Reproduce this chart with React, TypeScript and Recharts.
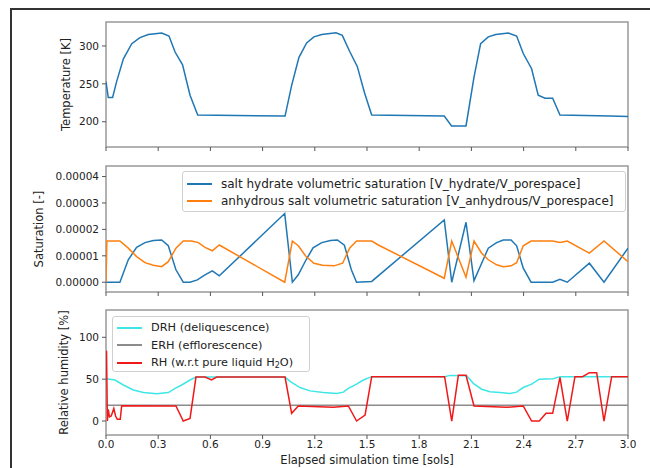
import React from "react";
import { LineChart, Line, XAxis, YAxis, ReferenceArea } from "recharts";

// shared x axis (sols)
const xTicks = [0, 0.3, 0.6, 0.9, 1.2, 1.5, 1.8, 2.1, 2.4, 2.7, 3.0];

// temperature [K]
const tempTime = [0, 0.013, 0.038, 0.061, 0.1, 0.148, 0.195, 0.243, 0.32, 0.362, 0.397, 0.44, 0.483, 0.527, 1.029, 1.067, 1.109, 1.153, 1.195, 1.24, 1.322, 1.358, 1.4, 1.444, 1.486, 1.527, 1.944, 1.986, 2.069, 2.115, 2.153, 2.197, 2.24, 2.312, 2.36, 2.398, 2.446, 2.484, 2.523, 2.567, 2.609, 2.897, 3.0];
const tempK = [253, 232, 232, 253, 283, 303, 311, 315, 317, 313, 292, 275, 235, 209, 207.5, 248, 285, 304, 312, 315, 317.5, 314, 293, 273, 238, 209, 207.5, 194.5, 194.5, 259, 303, 312, 315, 317, 313, 290, 270, 235, 231, 231, 209, 207.5, 207];
const tempTicks = [200, 250, 300];

// saturation (units of 1e-5)
const hydTime = [0, 0.08, 0.128, 0.176, 0.224, 0.272, 0.32, 0.358, 0.402, 0.444, 0.483, 0.525, 0.569, 0.611, 0.651, 1.027, 1.071, 1.105, 1.15, 1.19, 1.24, 1.29, 1.33, 1.37, 1.41, 1.44, 1.527, 1.944, 1.987, 2.069, 2.115, 2.159, 2.197, 2.245, 2.283, 2.328, 2.36, 2.398, 2.443, 2.567, 2.609, 2.651, 2.778, 2.862, 3.0];
const hydSat = [0, 0, 0.85, 1.32, 1.5, 1.58, 1.6, 1.38, 0.47, 0, 0, 0.09, 0.28, 0.43, 0.24, 2.6, 0, 0.28, 0.85, 1.3, 1.5, 1.58, 1.6, 1.4, 0.47, 0, 0.03, 2.36, 0, 2.27, 0.06, 0.72, 1.29, 1.5, 1.6, 1.6, 1.38, 0.53, 0, 0, 0.11, 0, 0.72, 0, 1.29];
const anhTime = [0, 0.005, 0.08, 0.128, 0.176, 0.224, 0.272, 0.32, 0.358, 0.402, 0.444, 0.492, 0.53, 0.569, 0.611, 0.651, 1.027, 1.071, 1.105, 1.15, 1.195, 1.245, 1.31, 1.36, 1.4, 1.44, 1.527, 1.565, 1.944, 1.987, 2.069, 2.115, 2.159, 2.197, 2.245, 2.283, 2.328, 2.36, 2.398, 2.443, 2.567, 2.609, 2.651, 2.778, 2.862, 3.0];
const anhSat = [0, 1.56, 1.56, 1.29, 0.97, 0.74, 0.64, 0.59, 0.78, 1.29, 1.56, 1.56, 1.5, 1.32, 1.19, 1.41, 0, 1.56, 1.38, 0.97, 0.72, 0.64, 0.62, 0.72, 1.29, 1.56, 1.56, 1.41, 0.15, 1.56, 0.19, 1.56, 1.1, 0.85, 0.66, 0.59, 0.62, 0.74, 1.38, 1.56, 1.56, 1.5, 1.56, 1.1, 1.56, 0.78];
const satTicks = [0, 0.00001, 0.00002, 0.00003, 0.00004];

// relative humidity [%]
const drhTime = [0, 0.052, 0.1, 0.157, 0.215, 0.291, 0.358, 0.397, 0.435, 0.483, 0.517, 1.029, 1.06, 1.115, 1.172, 1.249, 1.326, 1.364, 1.393, 1.44, 1.479, 1.527, 1.946, 1.977, 2.073, 2.111, 2.159, 2.207, 2.264, 2.322, 2.36, 2.398, 2.446, 2.49, 2.571, 2.609, 3.0];
const drh = [50.5, 49, 43, 37, 34, 32.5, 34, 39, 43, 49, 52.5, 52.5, 47, 40, 36, 34, 33, 34.5, 39, 44, 49, 53, 53, 54.5, 54, 45, 38, 35, 34, 33, 34.5, 40, 44, 50, 50.5, 53, 53];
const erhTime = [0, 3.0];
const erh = [18.7, 18.7];
const rhTime = [0, 0.003, 0.008, 0.013, 0.02, 0.03, 0.045, 0.055, 0.065, 0.082, 0.09, 0.402, 0.444, 0.483, 0.517, 0.569, 0.607, 0.636, 1.029, 1.067, 1.105, 1.306, 1.393, 1.44, 1.489, 1.527, 1.946, 1.987, 2.025, 2.069, 2.115, 2.303, 2.398, 2.446, 2.49, 2.529, 2.567, 2.609, 2.651, 2.695, 2.739, 2.778, 2.82, 2.862, 2.906, 3.0];
const rh = [83, 83, 0, 14, 5, 6, 15, 6, 2, 2, 18.3, 18, 0, 3.2, 52.5, 52.5, 49, 52.5, 52.5, 9.2, 18, 16.3, 18, 0, 7.2, 53, 53, 0, 54.6, 54.6, 18, 16.3, 18, 0, 0, 9.2, 9.2, 52.2, 0, 53, 53, 57.8, 57.8, 0, 53, 53];
const rhTicks = [0, 50, 100];

const FONT = "DejaVu Sans, sans-serif";

const pairs = (ts: number[], vs: number[], scale = 1) =>
  ts.map((t, i) => ({ t, v: vs[i] * scale }));

interface Series {
  name: string;
  color: string;
  data: { t: number; v: number }[];
}

interface PanelProps {
  top: number;
  height: number;
  marginTop: number;
  domain: [number, number];
  ticks: number[];
  fmt: (v: number) => string;
  yLabel: string;
  labelDx: number;
  series: Series[];
  bottom?: boolean;
}

const tickStyle = { fill: "#222", fontSize: 10.5, fontFamily: FONT };

const Panel: React.FC<PanelProps> = ({
  top,
  height,
  marginTop,
  domain,
  ticks,
  fmt,
  yLabel,
  labelDx,
  series,
  bottom = false,
}) => (
  <div style={{ position: "absolute", left: 0, top }}>
    <LineChart
      width={650}
      height={height}
      margin={{ top: marginTop, right: 22, left: 46, bottom: 0 }}
    >
      <XAxis
        type="number"
        dataKey="t"
        domain={[0, 3]}
        ticks={xTicks}
        allowDataOverflow
        axisLine={false}
        tickLine={{ stroke: "#555" }}
        tickSize={4}
        tickMargin={2}
        height={bottom ? 33 : 10}
        tick={tickStyle}
        tickFormatter={(v: number) => (bottom ? v.toFixed(1) : "")}
        label={
          bottom
            ? {
                value: "Elapsed simulation time [sols]",
                position: "insideBottom",
                offset: 4,
                style: { fill: "#222", fontSize: 11.5, fontFamily: FONT },
              }
            : undefined
        }
      />
      <YAxis
        type="number"
        domain={domain}
        ticks={ticks}
        allowDataOverflow
        width={60}
        axisLine={false}
        tickLine={{ stroke: "#555" }}
        tickSize={4}
        tickMargin={3}
        tick={tickStyle}
        tickFormatter={fmt}
        label={{
          value: yLabel,
          angle: -90,
          position: "center",
          dx: labelDx,
          style: { fill: "#222", fontSize: 11.5, fontFamily: FONT, textAnchor: "middle" },
        }}
      />
      <ReferenceArea
        x1={0}
        x2={3}
        y1={domain[0]}
        y2={domain[1]}
        fill="none"
        stroke="#999"
        strokeWidth={1.5}
        ifOverflow="visible"
      />
      {series.map((s) => (
        <Line
          key={s.name}
          data={s.data}
          dataKey="v"
          name={s.name}
          type="linear"
          stroke={s.color}
          strokeWidth={1.5}
          dot={false}
          activeDot={false}
          isAnimationActive={false}
        />
      ))}
    </LineChart>
  </div>
);

const legendBox: React.CSSProperties = {
  position: "absolute",
  background: "rgba(255,255,255,0.85)",
  border: "1px solid #d0d0d0",
  borderRadius: 3,
  fontFamily: FONT,
  color: "#222",
  boxSizing: "border-box",
};

const LegendRow: React.FC<{ color: string; children: React.ReactNode }> = ({ color, children }) => (
  <div style={{ display: "flex", alignItems: "center", height: 17.5 }}>
    <div style={{ width: 25, height: 2, background: color, marginLeft: 4, marginRight: 9, flexShrink: 0 }} />
    <span style={{ whiteSpace: "nowrap" }}>{children}</span>
  </div>
);

const satSeries: Series[] = [
  { name: "salt hydrate volumetric saturation [V_hydrate/V_porespace]", color: "#1f77b4", data: pairs(hydTime, hydSat, 1e-5) },
  { name: "anhydrous salt volumetric saturation [V_anhydrous/V_porespace]", color: "#ff7f0e", data: pairs(anhTime, anhSat, 1e-5) },
];

const rhSeries: Series[] = [
  { name: "DRH (deliquescence)", color: "#3fe6e6", data: pairs(drhTime, drh) },
  { name: "ERH (efflorescence)", color: "#8c8c8c", data: pairs(erhTime, erh) },
  { name: "RH", color: "#f01818", data: pairs(rhTime, rh) },
];

const App: React.FC = () => (
  <div style={{ position: "absolute", left: 0, top: 0, width: 650, height: 468, background: "#fff", overflow: "hidden" }}>
    <div
      style={{
        position: "absolute",
        left: 10,
        top: 8,
        width: 660,
        height: 480,
        borderLeft: "2px solid #333",
        borderTop: "2px solid #333",
      }}
    />
    <Panel
      top={0}
      height={157}
      marginTop={22}
      domain={[166.7, 331.6]}
      ticks={tempTicks}
      fmt={(v) => String(v)}
      yLabel="Temperature [K]"
      labelDx={-10}
      series={[{ name: "T", color: "#1f77b4", data: pairs(tempTime, tempK) }]}
    />
    <Panel
      top={150}
      height={152}
      marginTop={16}
      domain={[-0.0000037, 0.000044]}
      ticks={satTicks}
      fmt={(v) => v.toFixed(5)}
      yLabel="Saturation [-]"
      labelDx={-37}
      series={satSeries}
    />
    <Panel
      top={294}
      height={174}
      marginTop={16}
      domain={[-16.7, 132.6]}
      ticks={rhTicks}
      fmt={(v) => String(v)}
      yLabel="Relative humidity [%]"
      labelDx={-12}
      series={rhSeries}
      bottom
    />
    <div style={{ ...legendBox, left: 182, top: 171, width: 444, height: 41, paddingTop: 3, fontSize: 12 }}>
      {satSeries.map((s) => (
        <LegendRow key={s.name} color={s.color}>{s.name}</LegendRow>
      ))}
    </div>
    <div style={{ ...legendBox, left: 112, top: 316, width: 198, height: 56, paddingTop: 2, fontSize: 11.3 }}>
      <LegendRow color={rhSeries[0].color}>DRH (deliquescence)</LegendRow>
      <LegendRow color={rhSeries[1].color}>ERH (efflorescence)</LegendRow>
      <LegendRow color={rhSeries[2].color}>
        RH (w.r.t pure liquid H<sub style={{ fontSize: 8, verticalAlign: "-2px" }}>2</sub>O)
      </LegendRow>
    </div>
  </div>
);

export default App;
